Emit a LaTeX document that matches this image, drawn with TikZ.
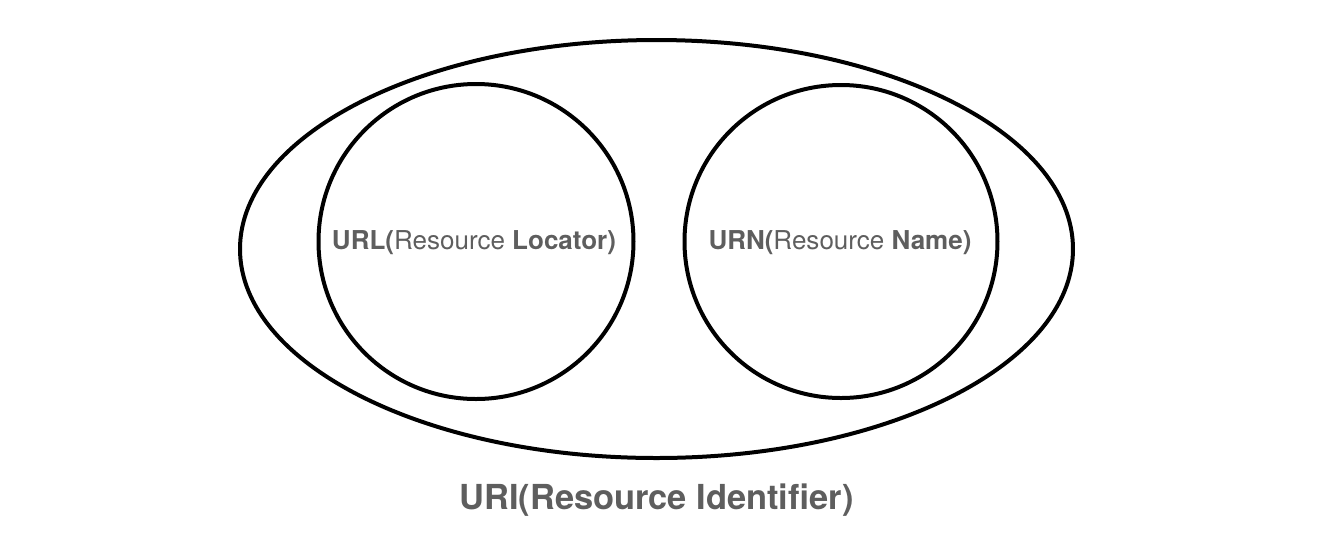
\documentclass[tikz,border=0pt]{standalone}
\usepackage{fontspec}
\setmainfont{TeX Gyre Heros}
\usepackage{xcolor}
\usetikzlibrary{shapes.geometric}
\definecolor{labelgray}{HTML}{5E5E5E}
\tikzset{
  setline/.style={draw=black, line width=0.040000cm},
  setlabel/.style={text=labelgray, inner sep=0pt}
}

\begin{document}
\begin{tikzpicture}
                        \useasboundingbox (0.000000,0.000000) rectangle (13.410000,5.500000);
                        {\fontsize{7.4}{9}\selectfont

                        % Drawing set URI
                        \node [setline, ellipse, minimum width=8.330000cm, minimum height=4.180000cm, inner sep=0pt] (uri) at (6.565000,3.010000) {};%

                        % Drawing set URL
                        \node [setline, circle, minimum size=3.150000cm, inner sep=0pt] (url) at (4.760000,3.085000) {};%
                        \node [setlabel] (urltext) at (4.740000,3.070000) {\textbf{URL(}Resource \textbf{Locator)}};%

                        % Drawing set URN
                        \node [setline, circle, minimum size=3.130000cm, inner sep=0pt] (urn) at (8.410000,3.085000) {};%
                        \node [setlabel] (urntext) at (8.400000,3.070000) {\textbf{URN(}Resource \textbf{Name)}};%

                        % Naming set URI
                        \node [setlabel, font=\fontsize{9.8}{12}\selectfont\bfseries] (uritext) at (6.565000,0.500000) {URI(Resource Identifier)};%
                        }
                    \end{tikzpicture}
\end{document}
